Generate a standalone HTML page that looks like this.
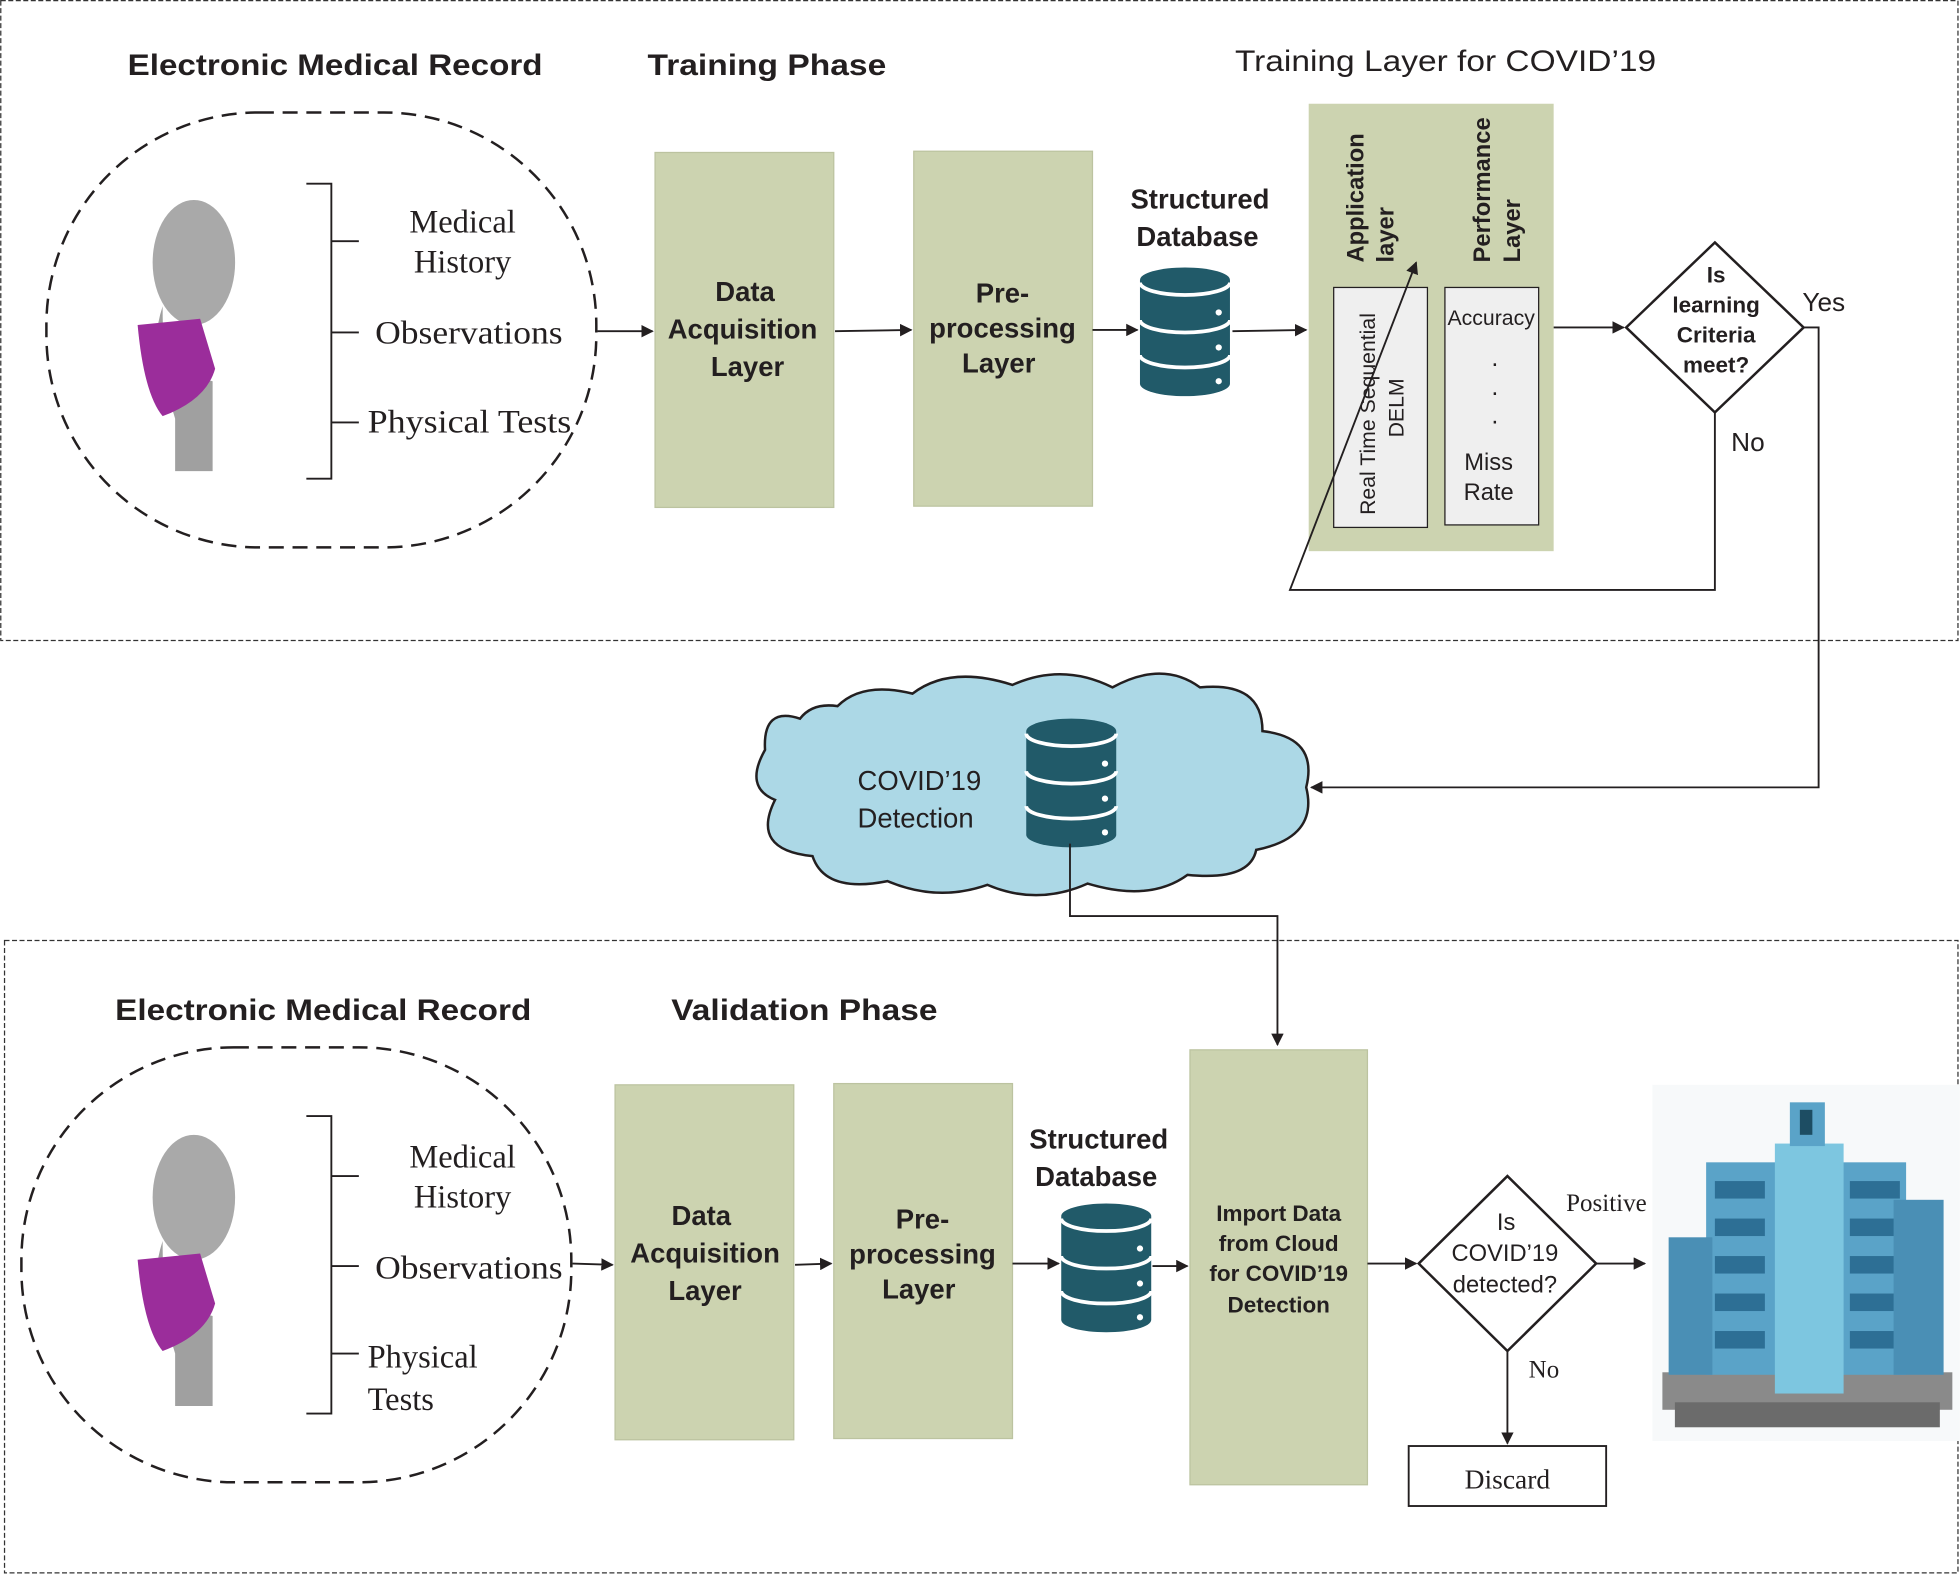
<!DOCTYPE html>
<html><head><meta charset="utf-8"><style>
html,body{margin:0;padding:0;background:#fff}
svg{display:block}
text{font-family:"Liberation Sans",sans-serif;fill:#231f20}
.b{font-weight:bold}
.s{font-family:"Liberation Serif",serif}
</style></head><body>
<svg width="1960" height="1576" viewBox="0 0 1568 1261" xmlns="http://www.w3.org/2000/svg">
<defs>
<marker id="a" markerWidth="10" markerHeight="10" refX="9" refY="5" orient="auto" markerUnits="userSpaceOnUse"><path d="M0,0 L10,5 L0,10 z" fill="#231f20"/></marker>
<g id="db">
<path d="M0,12 A36,10 0 0 1 72,12 V95 A36,10 0 0 1 0,95 Z" fill="#215a69"/>
<path d="M0,14 A36,10 0 0 0 72,14 M0,44 A36,10 0 0 0 72,44 M0,72 A36,10 0 0 0 72,72" fill="none" stroke="#fff" stroke-width="3"/>
<circle cx="63" cy="38" r="2.5" fill="#fff"/><circle cx="63" cy="66" r="2.5" fill="#fff"/><circle cx="63" cy="93" r="2.5" fill="#fff"/>
</g>
<g id="head">
<ellipse cx="45" cy="55" rx="33" ry="50" fill="#a9a9a9"/>
<path d="M20,90 Q10,120 22,140 L60,150 L60,222 L30,222 L30,180 Q20,150 20,90Z" fill="#a0a0a0"/>
<path d="M0,105 L50,100 L62,140 Q55,165 20,178 Q5,160 0,105Z" fill="#9b2d9b"/>
</g>
</defs>
<rect x="0.5" y="0.5" width="1566" height="512" fill="none" stroke="#333" stroke-dasharray="4,2"/>
<rect x="3.5" y="752.5" width="1563" height="506" fill="none" stroke="#333" stroke-dasharray="4,2"/>

<text x="102" y="60" class="b" font-size="24" textLength="332" lengthAdjust="spacingAndGlyphs">Electronic Medical Record</text>
<text x="518" y="60" class="b" font-size="24" textLength="191" lengthAdjust="spacingAndGlyphs">Training Phase</text>
<text x="988" y="57" font-size="24" textLength="337" lengthAdjust="spacingAndGlyphs">Training Layer for COVID’19</text>
<rect x="37" y="90" width="440" height="348" rx="170" fill="none" stroke="#231f20" stroke-width="2" stroke-dasharray="12,7"/>
<use href="#head" x="110" y="155"/>
<path d="M245,147 H265 V383 H245 M265,193 H287 M265,266 H287 M265,338 H287" fill="none" stroke="#231f20" stroke-width="1.5"/>
<text x="370" y="186" class="s" font-size="26" text-anchor="middle">Medical</text>
<text x="370" y="218" class="s" font-size="26" text-anchor="middle">History</text>
<text x="300" y="275" class="s" font-size="26" textLength="150" lengthAdjust="spacingAndGlyphs">Observations</text>
<text x="294" y="346" class="s" font-size="26" textLength="163" lengthAdjust="spacingAndGlyphs">Physical Tests</text>
<rect x="524" y="122" width="143" height="284" fill="#ccd3b0" stroke="#bcc3a0"/>
<rect x="731" y="121" width="143" height="284" fill="#ccd3b0" stroke="#bcc3a0"/>
<g class="b" font-size="22" text-anchor="middle">
<text x="596" y="241" class="b">Data</text><text x="594" y="271" class="b">Acquisition</text><text x="598" y="301" class="b">Layer</text>
<text x="802" y="242" class="b">Pre-</text><text x="802" y="270" class="b">processing</text><text x="799" y="298" class="b">Layer</text>
<text x="960" y="167" class="b">Structured</text><text x="958" y="197" class="b">Database</text>
</g>
<use href="#db" x="912" y="212"/>
<rect x="1047" y="83" width="196" height="358" fill="#ccd3b0"/>
<rect x="1067" y="230" width="75" height="192" fill="#efefef" stroke="#231f20"/>
<rect x="1156" y="230" width="75" height="190" fill="#efefef" stroke="#231f20"/>
<text transform="translate(1091,210) rotate(-90)" class="b" font-size="19">Application</text>
<text transform="translate(1115,210) rotate(-90)" class="b" font-size="19">layer</text>
<text transform="translate(1192,210) rotate(-90)" class="b" font-size="19">Performance</text>
<text transform="translate(1216,210) rotate(-90)" class="b" font-size="19">Layer</text>
<text transform="translate(1100,412) rotate(-90)" font-size="17">Real Time Sequential</text>
<text transform="translate(1123,350) rotate(-90)" font-size="17">DELM</text>
<text x="1193" y="260" font-size="17" text-anchor="middle">Accuracy</text>
<text x="1196" y="293" font-size="20" text-anchor="middle">.</text><text x="1196" y="316" font-size="20" text-anchor="middle">.</text><text x="1196" y="339" font-size="20" text-anchor="middle">.</text>
<text x="1191" y="376" font-size="19" text-anchor="middle">Miss</text><text x="1191" y="400" font-size="19" text-anchor="middle">Rate</text>
<polygon points="1372,194 1443,262 1372,330 1301,262" fill="#fff" stroke="#231f20" stroke-width="2"/>
<g font-size="18" text-anchor="middle">
<text x="1373" y="226" class="b">Is</text><text x="1373" y="250" class="b">learning</text><text x="1373" y="274" class="b">Criteria</text><text x="1373" y="298" class="b">meet?</text>
</g>
<text x="1442" y="249" font-size="21">Yes</text>
<text x="1385" y="361" font-size="21">No</text>
<g stroke="#231f20" stroke-width="1.5" fill="none">
<line x1="478" y1="265" x2="522" y2="265" marker-end="url(#a)"/>
<line x1="668" y1="265" x2="729" y2="264" marker-end="url(#a)"/>
<line x1="874" y1="264" x2="910" y2="264" marker-end="url(#a)"/>
<line x1="986" y1="265" x2="1045" y2="264" marker-end="url(#a)"/>
<line x1="1243" y1="262" x2="1299" y2="262" marker-end="url(#a)"/>
<path d="M1372,330 V472 H1032 L1133,210" marker-end="url(#a)"/>
<path d="M1443,262 H1455 V630 H1049" marker-end="url(#a)"/>
</g>

<path d="M640,575 Q610,565 612,600 Q595,630 620,640 Q600,680 650,685 Q660,715 710,705 Q750,722 790,708 Q830,725 870,707 Q920,722 950,700 Q1000,705 1005,680 Q1055,670 1045,630 Q1055,590 1010,585 Q1010,545 960,550 Q930,528 890,550 Q850,530 810,548 Q760,532 730,555 Q690,545 670,565 Q650,562 640,575Z" fill="#acd8e6" stroke="#231f20" stroke-width="2"/>
<use href="#db" x="821" y="573"/>
<text x="686" y="632" font-size="22">COVID’19</text>
<text x="686" y="662" font-size="22">Detection</text>
<path d="M856,675 V733 H1022 V836" fill="none" stroke="#231f20" stroke-width="1.5" marker-end="url(#a)"/>

<text x="92" y="816" class="b" font-size="24" textLength="333" lengthAdjust="spacingAndGlyphs">Electronic Medical Record</text>
<text x="537" y="816" class="b" font-size="24" textLength="213" lengthAdjust="spacingAndGlyphs">Validation Phase</text>
<rect x="17" y="838" width="440" height="348" rx="170" fill="none" stroke="#231f20" stroke-width="2" stroke-dasharray="12,7"/>
<use href="#head" x="110" y="903"/>
<path d="M245,893 H265 V1131 H245 M265,941 H287 M265,1013 H287 M265,1083 H287" fill="none" stroke="#231f20" stroke-width="1.5"/>
<text x="370" y="934" class="s" font-size="26" text-anchor="middle">Medical</text>
<text x="370" y="966" class="s" font-size="26" text-anchor="middle">History</text>
<text x="300" y="1023" class="s" font-size="26" textLength="150" lengthAdjust="spacingAndGlyphs">Observations</text>
<text x="294" y="1094" class="s" font-size="26">Physical</text>
<text x="294" y="1128" class="s" font-size="26">Tests</text>
<rect x="492" y="868" width="143" height="284" fill="#ccd3b0" stroke="#bcc3a0"/>
<rect x="667" y="867" width="143" height="284" fill="#ccd3b0" stroke="#bcc3a0"/>
<rect x="952" y="840" width="142" height="348" fill="#ccd3b0" stroke="#bcc3a0"/>
<g font-size="22" text-anchor="middle">
<text x="561" y="980" class="b">Data</text><text x="564" y="1010" class="b">Acquisition</text><text x="564" y="1040" class="b">Layer</text>
<text x="738" y="983" class="b">Pre-</text><text x="738" y="1011" class="b">processing</text><text x="735" y="1039" class="b">Layer</text>
<text x="879" y="919" class="b">Structured</text><text x="877" y="949" class="b">Database</text>
</g>
<g font-size="18" text-anchor="middle">
<text x="1023" y="977" class="b">Import Data</text><text x="1023" y="1001" class="b">from Cloud</text><text x="1023" y="1025" class="b">for COVID’19</text><text x="1023" y="1050" class="b">Detection</text>
</g>
<use href="#db" x="849" y="961"/>
<polygon points="1206,941 1277,1011 1206,1081 1135,1011" fill="#fff" stroke="#231f20" stroke-width="2"/>
<g font-size="19" text-anchor="middle"><text x="1205" y="984">Is</text><text x="1204" y="1009">COVID’19</text><text x="1204" y="1034">detected?</text></g>
<text x="1253" y="969" class="s" font-size="20">Positive</text>
<text x="1223" y="1102" class="s" font-size="20">No</text>
<rect x="1127" y="1157" width="158" height="48" fill="#fff" stroke="#231f20" stroke-width="1.5"/>
<text x="1206" y="1191" class="s" font-size="22" text-anchor="middle">Discard</text>
<g stroke="#231f20" stroke-width="1.5" fill="none">
<line x1="458" y1="1011" x2="490" y2="1012" marker-end="url(#a)"/>
<line x1="636" y1="1012" x2="665" y2="1011" marker-end="url(#a)"/>
<line x1="810" y1="1011" x2="847" y2="1011" marker-end="url(#a)"/>
<line x1="922" y1="1013" x2="950" y2="1013" marker-end="url(#a)"/>
<line x1="1094" y1="1011" x2="1133" y2="1011" marker-end="url(#a)"/>
<line x1="1277" y1="1011" x2="1316" y2="1011" marker-end="url(#a)"/>
<line x1="1206" y1="1081" x2="1206" y2="1155" marker-end="url(#a)"/>
</g>
<rect x="1322" y="868" width="246" height="285" fill="#f7f9fa"/>
<rect x="1330" y="1098" width="232" height="30" fill="#8a8a8a"/>
<rect x="1340" y="1122" width="212" height="20" fill="#6b6b6b"/>
<rect x="1365" y="930" width="160" height="170" fill="#5aa3c8"/>
<rect x="1420" y="915" width="55" height="200" fill="#7dc6e0"/>
<rect x="1432" y="882" width="28" height="35" fill="#5aa3c8"/>
<rect x="1440" y="888" width="10" height="20" fill="#1d4d63"/>
<g fill="#2d6f95">
<rect x="1372" y="945" width="40" height="14"/><rect x="1372" y="975" width="40" height="14"/><rect x="1372" y="1005" width="40" height="14"/><rect x="1372" y="1035" width="40" height="14"/><rect x="1372" y="1065" width="40" height="14"/>
<rect x="1480" y="945" width="40" height="14"/><rect x="1480" y="975" width="40" height="14"/><rect x="1480" y="1005" width="40" height="14"/><rect x="1480" y="1035" width="40" height="14"/><rect x="1480" y="1065" width="40" height="14"/>
</g>
<rect x="1515" y="960" width="40" height="140" fill="#4a8fb5"/>
<rect x="1335" y="990" width="35" height="110" fill="#4a8fb5"/>
</svg>
</body></html>
